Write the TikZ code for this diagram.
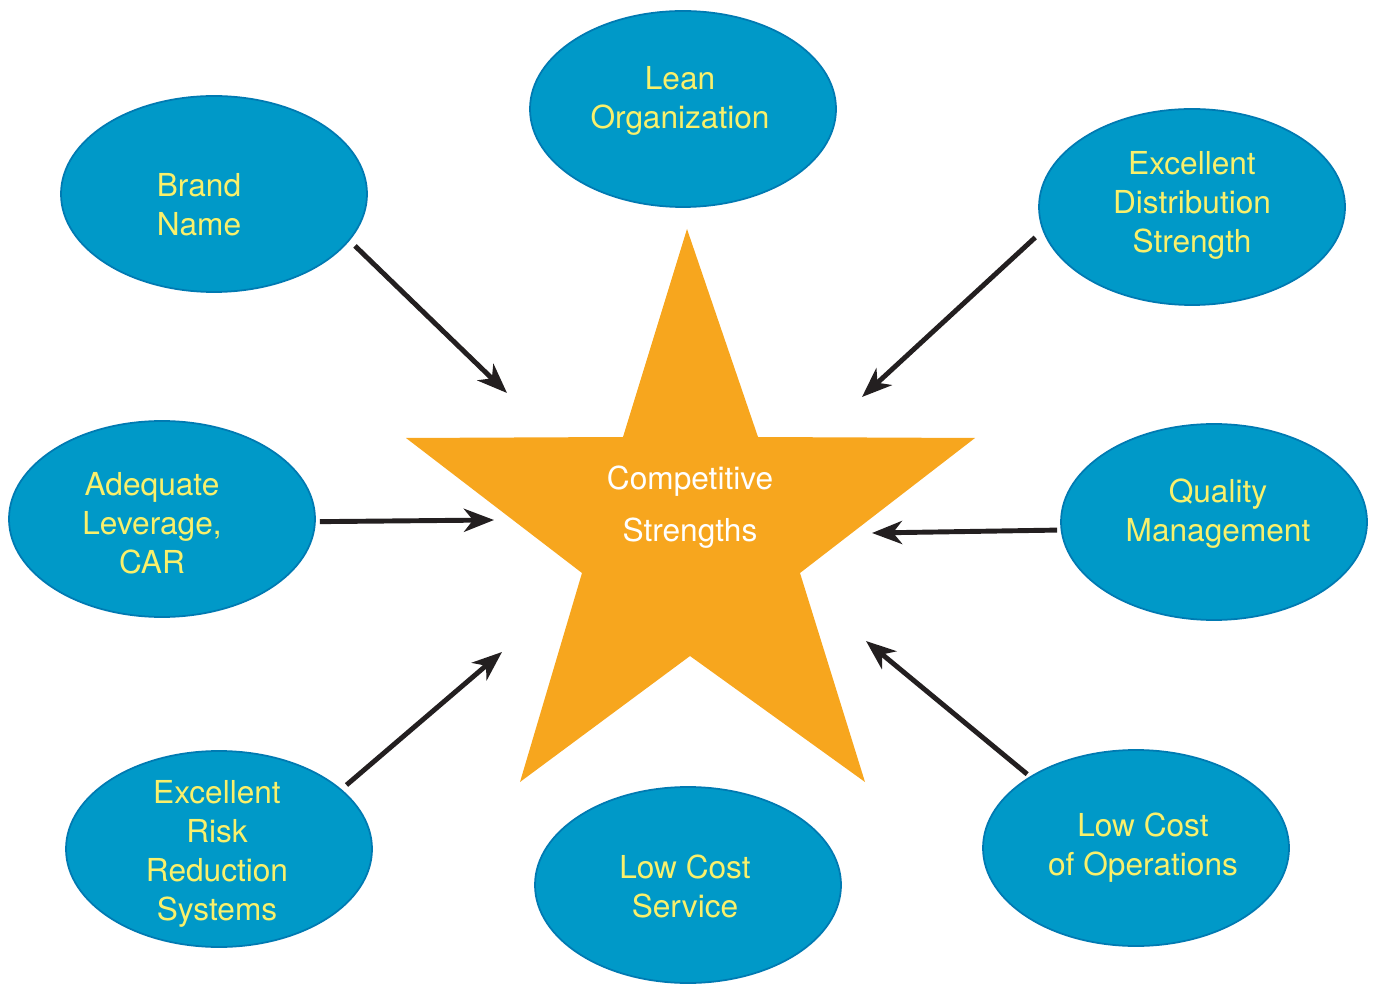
\documentclass[tikz,border=0pt]{standalone}
\usepackage{fontspec}
\setmainfont{TeX Gyre Heros}
\usetikzlibrary{shapes.geometric,arrows.meta}
\definecolor{blobblue}{RGB}{0,153,200}
\definecolor{blobedge}{RGB}{0,122,178}
\definecolor{txtyellow}{RGB}{249,240,107}
\definecolor{starorange}{RGB}{247,166,30}
\definecolor{arrowink}{RGB}{35,31,32}
\tikzset{
  blob/.style={ellipse,draw=blobedge,fill=blobblue,line width=1pt,minimum width=6.12cm,minimum height=3.92cm,inner sep=0pt},
  blobtext/.style={align=center,text=txtyellow,font=\fontsize{18}{22.2}\selectfont,inner sep=0pt},
  arr/.style={draw=arrowink,line width=2.8pt,-{Stealth[length=6mm,width=4.6mm,inset=1.8mm]}}
}
\begin{document}
\begin{tikzpicture}
  \useasboundingbox (0,0) rectangle (27.6,-19.7);
  % star in the middle
  \fill[starorange] (13.74,-4.58) -- (15.16,-8.74) -- (19.50,-8.76) -- (16.00,-11.46) -- (17.30,-15.64)
    -- (13.80,-13.12) -- (10.40,-15.64) -- (11.64,-11.46) -- (8.12,-8.76) -- (12.46,-8.74) -- cycle;
  \node[align=center,text=white,font=\fontsize{18}{29.5}\selectfont,inner sep=0pt] (core) at (13.80,-10.14) {Competitive\\Strengths};
  % ellipses round it
  \foreach \n/\x/\y in {lean/13.66/-2.18,brand/4.28/-3.88,dist/23.84/-4.14,lev/3.24/-10.38,
                        qual/24.28/-10.44,risk/4.38/-16.98,serv/13.76/-17.70,ops/22.72/-16.96}
    \node[blob] (\n) at (\x,\y) {};
  \node[blobtext] (leantxt) at (13.60,-2.02) {Lean\\Organization};
  \node[blobtext] (brandtxt) at (3.98,-4.10) {Brand\\Name};
  \node[blobtext] (disttxt) at (23.84,-4.10) {Excellent\\Distribution\\Strength};
  \node[blobtext] (levtxt) at (3.04,-10.46) {Adequate\\Leverage,\\CAR};
  \node[blobtext] (qualtxt) at (24.36,-10.28) {Quality\\Management};
  \node[blobtext] (risktxt) at (4.34,-17.08) {Excellent\\Risk\\Reduction\\Systems};
  \node[blobtext] (servtxt) at (13.70,-17.72) {Low Cost\\Service};
  \node[blobtext] (opstxt) at (22.86,-16.96) {Low Cost\\of Operations};
  % arrow tips
  \coordinate (t1) at (10.14,-7.86);
  \coordinate (t2) at (17.24,-7.94);
  \coordinate (t3) at (9.88,-10.40);
  \coordinate (t4) at (17.44,-10.66);
  \coordinate (t5) at (10.04,-13.04);
  \coordinate (t6) at (17.32,-12.82);
  \foreach \a/\b/\s in {brand.-19/t1/1.5mm,dist.189/t2/2mm,lev.-1/t3/0.8mm,qual.183/t4/0.7mm,risk.26/t5/1.3mm,ops.146/t6/0.7mm}
    \draw[arr,shorten <=\s] (\a) -- (\b);
\end{tikzpicture}
\end{document}
